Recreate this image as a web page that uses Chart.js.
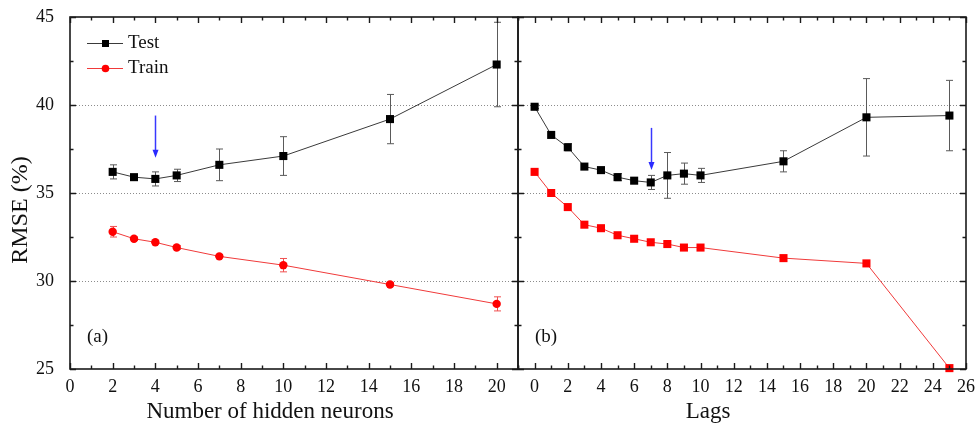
<!DOCTYPE html>
<html>
<head>
<meta charset="utf-8">
<title>RMSE vs hidden neurons and lags</title>
<script src="https://cdn.jsdelivr.net/npm/chart.js@4.4.0/dist/chart.umd.min.js"></script>
<style>
  html, body { margin: 0; padding: 0; background: #ffffff; }
  #wrap { position: relative; width: 977px; height: 426px; overflow: hidden; background: #ffffff; }
  .panel { position: absolute; top: 0; height: 426px; }
</style>
</head>
<body>
<div id="wrap">
  <div class="panel" style="left:0px;width:530px"><canvas id="chartA"></canvas></div>
  <div class="panel" style="left:506px;width:471px"><canvas id="chartB"></canvas></div>
</div>
<script>
// ---- (a) RMSE against the number of hidden neurons ----
const hiddenNeurons   = [2, 3, 4, 5, 7, 10, 15, 20];
const testHidden      = [36.2, 35.9, 35.8, 36.0, 36.6, 37.1, 39.2, 42.3];
const testHiddenErr   = [0.4, 0.1, 0.4, 0.35, 0.9, 1.1, 1.4, 2.4];
const trainHidden     = [32.8, 32.4, 32.2, 31.9, 31.4, 30.9, 29.8, 28.7];
const trainHiddenErr  = [0.3, 0.1, 0.1, 0.1, 0.1, 0.38, 0.12, 0.4];

// ---- (b) RMSE against the number of lags ----
const lags            = [0, 1, 2, 3, 4, 5, 6, 7, 8, 9, 10, 15, 20, 25];
const testLags        = [39.9, 38.3, 37.6, 36.5, 36.3, 35.9, 35.7, 35.6, 36.0, 36.1, 36.0, 36.8, 39.3, 39.4];
const testLagsErr     = [0.1, 0.1, 0.2, 0.1, 0.1, 0.2, 0.1, 0.4, 1.3, 0.6, 0.4, 0.6, 2.2, 2.0];
const trainLags       = [36.2, 35.0, 34.2, 33.2, 33.0, 32.6, 32.4, 32.2, 32.1, 31.9, 31.9, 31.3, 31.0, 25.05];
const trainLagsErr    = [0, 0, 0, 0, 0, 0, 0, 0, 0, 0, 0, 0, 0, 0];

// ---- axis ticks ----
const yTicks          = [25, 30, 35, 40, 45];
const yGridLines      = [30, 35, 40];
const xTicksHidden    = [0, 2, 4, 6, 8, 10, 12, 14, 16, 18, 20];
const xTicksLags      = [0, 2, 4, 6, 8, 10, 12, 14, 16, 18, 20, 22, 24, 26];

// ---- arrows marking the chosen configuration: [x, from, to] ----
const arrowHidden     = [4, 39.4, 37.0];
const arrowLags       = [7, 38.7, 36.3];

const SERIF = '"Liberation Serif", "Times New Roman", serif';
Chart.defaults.font.family = SERIF;
Chart.defaults.color = '#111';

const TEST_LINE = '#3a3a3a', TEST_FILL = '#000000', TEST_ERR = '#5a5a5a';
const TRAIN_LINE = '#f03a3a', TRAIN_FILL = '#ff0000', TRAIN_ERR = '#f05050';

function pts(xs, ys) { return xs.map((v, i) => ({ x: v, y: ys[i] })); }

// Frame, inward ticks, dotted reference lines, error bars, arrows and annotations
const panelPlugin = {
  id: 'panelDecor',
  beforeDatasetsDraw(chart, args, o) {
    const { ctx, chartArea: a, scales: { x, y } } = chart;
    ctx.save();
    ctx.strokeStyle = '#8c8c8c';
    ctx.lineWidth = 1;
    ctx.setLineDash([1, 2]);
    yGridLines.forEach(v => {
      const py = Math.round(y.getPixelForValue(v)) + 0.5;
      ctx.beginPath(); ctx.moveTo(a.left, py); ctx.lineTo(a.right, py); ctx.stroke();
    });
    ctx.setLineDash([]);
    chart.data.datasets.forEach(ds => {
      if (!ds.errors) return;
      ctx.strokeStyle = ds.errorColor;
      ctx.lineWidth = 1;
      ds.data.forEach((p, j) => {
        const e = ds.errors[j];
        if (!e) return;
        const px = Math.round(x.getPixelForValue(p.x)) + 0.5;
        const t = y.getPixelForValue(p.y + e), b = y.getPixelForValue(p.y - e);
        ctx.beginPath();
        ctx.moveTo(px, t); ctx.lineTo(px, b);
        ctx.moveTo(px - 3.5, t); ctx.lineTo(px + 3.5, t);
        ctx.moveTo(px - 3.5, b); ctx.lineTo(px + 3.5, b);
        ctx.stroke();
      });
    });
    ctx.restore();
  },
  afterDatasetsDraw(chart, args, o) {
    const { ctx, chartArea: a, scales: { x, y } } = chart;
    ctx.save();
    // frame
    ctx.strokeStyle = '#1a1a1a';
    ctx.lineWidth = 1.6;
    ctx.strokeRect(a.left, a.top, a.right - a.left, a.bottom - a.top);
    // x ticks (major on labelled values, minor halfway), bottom and top, inward
    ctx.lineWidth = 1.4;
    const xMajor = o.xMajor;
    for (let v = Math.ceil(x.min); v <= x.max; v += 1) {
      const len = xMajor.includes(v) ? 6 : 3.5;
      const px = Math.round(x.getPixelForValue(v)) + 0.5;
      ctx.beginPath();
      ctx.moveTo(px, a.bottom); ctx.lineTo(px, a.bottom - len);
      ctx.moveTo(px, a.top); ctx.lineTo(px, a.top + len);
      ctx.stroke();
    }
    // y ticks, left and right, inward
    for (let v = y.min; v <= y.max; v += 2.5) {
      const len = yTicks.includes(v) ? 6 : 3.5;
      const py = Math.round(y.getPixelForValue(v)) + 0.5;
      ctx.beginPath();
      ctx.moveTo(a.left, py); ctx.lineTo(a.left + len, py);
      ctx.moveTo(a.right, py); ctx.lineTo(a.right - len, py);
      ctx.stroke();
    }
    // arrow
    const [ax, y0, y1] = o.arrow;
    const apx = Math.round(x.getPixelForValue(ax)) + 0.5;
    const p0 = y.getPixelForValue(y0), p1 = y.getPixelForValue(y1);
    ctx.strokeStyle = '#3838ff';
    ctx.fillStyle = '#2a2aff';
    ctx.lineWidth = 1.5;
    ctx.beginPath(); ctx.moveTo(apx, p0); ctx.lineTo(apx, p1 - 7); ctx.stroke();
    ctx.beginPath(); ctx.moveTo(apx - 3, p1 - 8); ctx.lineTo(apx + 3, p1 - 8); ctx.lineTo(apx, p1); ctx.closePath(); ctx.fill();
    // panel tag
    ctx.fillStyle = '#111';
    ctx.font = '19px ' + SERIF;
    ctx.textAlign = 'left';
    ctx.textBaseline = 'middle';
    ctx.fillText(o.tag, a.left + 17, 337);
    // x axis title
    ctx.font = '23px ' + SERIF;
    ctx.textAlign = 'center';
    ctx.textBaseline = 'alphabetic';
    ctx.fillText(o.xTitle, o.xTitleX, 418);
    // y axis title
    if (o.yTitle) {
      ctx.save();
      ctx.translate(21, 210);
      ctx.rotate(-Math.PI / 2);
      ctx.font = '24px ' + SERIF;
      ctx.textAlign = 'center';
      ctx.textBaseline = 'middle';
      ctx.fillText(o.yTitle, 0, 0);
      ctx.restore();
    }
    // legend
    if (o.legend) {
      const items = [
        { label: 'Test', line: TEST_LINE, fill: TEST_FILL, style: 'rect', yy: 43 },
        { label: 'Train', line: TRAIN_LINE, fill: TRAIN_FILL, style: 'circle', yy: 68 }
      ];
      items.forEach(it => {
        const lx = a.left + 17;
        ctx.strokeStyle = it.line; ctx.lineWidth = 1;
        ctx.beginPath(); ctx.moveTo(lx, it.yy + 0.5); ctx.lineTo(lx + 36, it.yy + 0.5); ctx.stroke();
        ctx.fillStyle = it.fill;
        if (it.style === 'rect') ctx.fillRect(lx + 15, it.yy - 3, 7, 7);
        else { ctx.beginPath(); ctx.arc(lx + 18.5, it.yy + 0.5, 3.8, 0, Math.PI * 2); ctx.fill(); }
        ctx.fillStyle = '#111';
        ctx.font = '19px ' + SERIF;
        ctx.textAlign = 'left';
        ctx.textBaseline = 'middle';
        ctx.fillText(it.label, lx + 41, it.yy);
      });
    }
    ctx.restore();
  }
};

function series(label, xs, ys, errs, line, fill, errColor, style, radius) {
  return {
    label, data: pts(xs, ys), errors: errs, errorColor: errColor,
    showLine: true, borderColor: line, borderWidth: 1, tension: 0,
    pointStyle: style, pointRadius: radius, pointBackgroundColor: fill,
    pointBorderColor: fill, pointBorderWidth: 0, clip: false
  };
}

const tickFont = { family: SERIF, size: 18, lineHeight: 1 };

function makePanel(id, cfg) {
  return new Chart(document.getElementById(id), {
    type: 'scatter',
    data: { datasets: cfg.datasets },
    options: {
      responsive: true, maintainAspectRatio: false, animation: false,
      layout: { padding: cfg.padding },
      plugins: { legend: { display: false }, tooltip: { enabled: false }, panelDecor: cfg.decor },
      scales: {
        x: {
          type: 'linear', min: cfg.xMin, max: cfg.xMax,
          afterFit: s => { s.height = 57; },
          afterBuildTicks: s => { s.ticks = cfg.xTicks.map(v => ({ value: v })); },
          grid: { display: false }, border: { display: false },
          ticks: { padding: 1, font: tickFont, color: '#111', maxRotation: 0, autoSkip: false }
        },
        y: {
          type: 'linear', min: 25, max: 45, display: cfg.showY,
          afterFit: s => { s.width = cfg.showY ? 70 : 0; },
          afterBuildTicks: s => { s.ticks = yTicks.map(v => ({ value: v })); },
          grid: { display: false }, border: { display: false },
          ticks: { padding: 8, font: tickFont, color: '#111' }
        }
      }
    },
    plugins: [panelPlugin]
  });
}

makePanel('chartA', {
  datasets: [
    series('Test', hiddenNeurons, testHidden, testHiddenErr, TEST_LINE, TEST_FILL, TEST_ERR, 'rect', 5.7),
    series('Train', hiddenNeurons, trainHidden, trainHiddenErr, TRAIN_LINE, TRAIN_FILL, TRAIN_ERR, 'circle', 4.2)
  ],
  padding: { left: 0, right: 12, top: 17, bottom: 0 },
  xMin: 0, xMax: 21, xTicks: xTicksHidden, showY: true,
  decor: { xMajor: xTicksHidden, arrow: arrowHidden, tag: '(a)', xTitle: 'Number of hidden neurons', xTitleX: 270, yTitle: 'RMSE (%)', legend: true }
});

makePanel('chartB', {
  datasets: [
    series('Test', lags, testLags, testLagsErr, TEST_LINE, TEST_FILL, TEST_ERR, 'rect', 5.7),
    series('Train', lags, trainLags, trainLagsErr, TRAIN_LINE, TRAIN_FILL, TRAIN_ERR, 'rect', 5.7)
  ],
  padding: { left: 12, right: 11, top: 17, bottom: 0 },
  xMin: -1, xMax: 26, xTicks: xTicksLags, showY: false,
  decor: { xMajor: xTicksLags, arrow: arrowLags, tag: '(b)', xTitle: 'Lags', xTitleX: 202, yTitle: null, legend: false }
});
</script>
</body>
</html>
